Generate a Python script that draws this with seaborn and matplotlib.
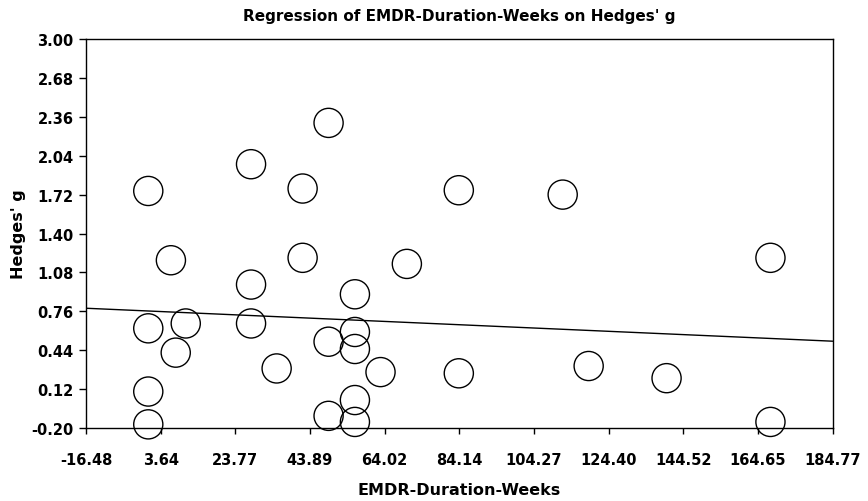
import numpy as np
import matplotlib
matplotlib.use('Agg')
import matplotlib.pyplot as plt
import seaborn as sns

# values
weeks = [0.3, 6.4, 0.3, 10.4, 7.7, 0.3, 0.3,
         28.0, 28.0, 28.0, 34.9, 41.9, 41.9,
         48.9, 48.9, 48.9, 56.0, 56.0, 56.0, 56.0, 56.0,
         62.9, 70.0, 84.0, 84.0, 112.0, 119.0, 140.0, 168.0, 168.0]
hedges_g = [1.75, 1.18, 0.62, 0.66, 0.42, 0.10, -0.17,
            1.97, 0.98, 0.66, 0.29, 1.77, 1.20,
            2.31, 0.51, -0.10, 0.90, 0.59, 0.45, 0.03, -0.15,
            0.26, 1.15, 1.756, 0.25, 1.72, 0.31, 0.21, 1.20, -0.15]

# fitted regression line
reg_intercept = 0.763
reg_slope = -0.001347

x_ticks = [-16.48, 3.64, 23.77, 43.89, 64.02, 84.14, 104.27, 124.40, 144.52, 164.65, 184.77]
y_ticks = [-0.20, 0.12, 0.44, 0.76, 1.08, 1.40, 1.72, 2.04, 2.36, 2.68, 3.00]

sns.set_theme(style="ticks")
plt.rcParams['font.family'] = ['DejaVu Sans']
plt.rcParams['font.weight'] = 'bold'
plt.rcParams['text.color'] = 'black'
plt.rcParams['axes.labelcolor'] = 'black'

fig = plt.figure(figsize=(8.68, 5.02), dpi=100)
ax = fig.add_axes([0.0991, 0.1454, 0.8602, 0.7749])

sns.scatterplot(x=weeks, y=hedges_g, s=440, marker='o', facecolor='none',
                edgecolor='black', linewidth=1.0, ax=ax, clip_on=False, zorder=3)

xs = np.array([x_ticks[0], x_ticks[-1]])
ax.plot(xs, reg_intercept + reg_slope * xs, color='black', linewidth=1.0)

ax.set_xlim(x_ticks[0], x_ticks[-1])
ax.set_ylim(y_ticks[0], y_ticks[-1])
ax.set_xticks(x_ticks)
ax.set_yticks(y_ticks)
ax.set_xticklabels([f"{v:.2f}" for v in x_ticks], fontsize=10.5, fontweight='bold')
ax.set_yticklabels([f"{v:.2f}" for v in y_ticks], fontsize=10.5, fontweight='bold')
ax.tick_params(axis='x', direction='out', length=4, width=1, pad=13, colors='black')
ax.tick_params(axis='y', direction='out', length=5, width=1, pad=4, colors='black')
for sp in ax.spines.values():
    sp.set_visible(True)
    sp.set_color('black')
    sp.set_linewidth(1.0)

ax.set_title("Regression of EMDR-Duration-Weeks on Hedges' g", fontsize=11,
             fontweight='bold', pad=14, color='black')
ax.set_xlabel("EMDR-Duration-Weeks", fontsize=11.5, fontweight='bold', labelpad=11, color='black')
ax.set_ylabel("Hedges' g", fontsize=11.5, fontweight='bold', labelpad=4, color='black')

fig.savefig("out.png", dpi=100)
